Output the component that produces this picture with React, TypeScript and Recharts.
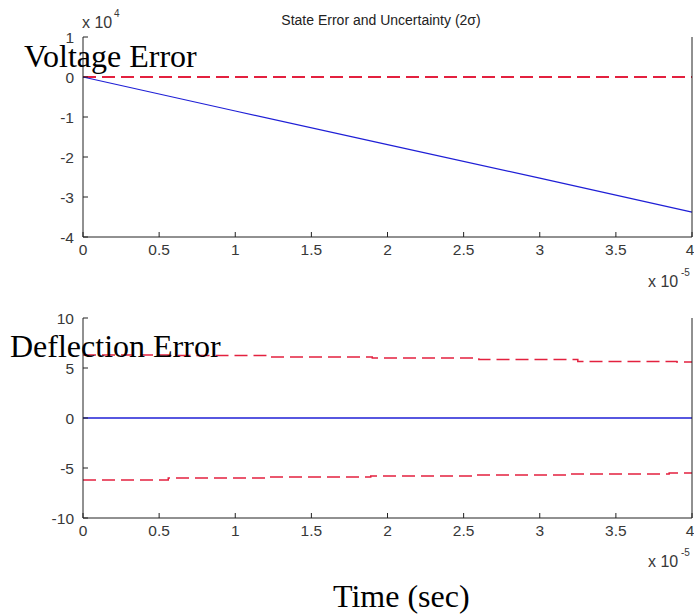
import React from 'react';
import { LineChart, Line, XAxis, YAxis } from 'recharts';

// time axis is in units of 1e-5 s
const timeTicks = [0, 0.5, 1, 1.5, 2, 2.5, 3, 3.5, 4];

// voltage error (x 1e4)
const voltageTime = [0, 1, 2, 3, 4];
const voltageErr = [0, -0.85, -1.69, -2.53, -3.38];
const voltageSigmaTime = [0, 4];
const voltageSigmaUp = [0.005, 0.005];
const voltageSigmaLo = [-0.005, -0.005];
const voltageTicks = [-4, -3, -2, -1, 0, 1];

// deflection error
const deflTime = [0, 4];
const deflErr = [0, 0];
const deflUpTime = [0, 0.56, 1.2, 1.9, 2.6, 3.25, 3.9, 4];
const deflUp = [6.3, 6.25, 6.1, 6.0, 5.85, 5.65, 5.6, 5.6];
const deflLoTime = [0, 0.56, 1.22, 1.89, 2.55, 3.2, 3.85, 4];
const deflLo = [-6.2, -6.0, -5.9, -5.8, -5.7, -5.6, -5.5, -5.5];
const deflTicks = [-10, -5, 0, 5, 10];

const zip = (xs: number[], ys: number[]) => xs.map((t, i) => ({ t, v: ys[i] }));

const BLUE = '#1f1fd6';
const RED = '#e3213f';
const AXIS = '#222';
const tickFont = { fontSize: 15.5, fill: '#383838', fontFamily: "Arial, 'Liberation Sans', sans-serif" };
const serif = "'Times New Roman', 'Liberation Serif', serif";
const sans = "Arial, 'Liberation Sans', sans-serif";

const noLabel = () => null;

type Props = {
  top: number;
  height: number;
  marginTop: number;
  xHeight: number;
  yDomain: [number, number];
  yTicks: number[];
  children: React.ReactNode;
};

const Panel = ({ top, height, marginTop, xHeight, yDomain, yTicks, children }: Props) => (
  <div style={{ position: 'absolute', left: 0, top }}>
    <LineChart width={694} height={height} margin={{ top: marginTop, right: 1, bottom: 0, left: 0 }}>
      <XAxis
        dataKey="t"
        type="number"
        domain={[0, 4]}
        ticks={timeTicks}
        height={xHeight}
        stroke={AXIS}
        tickSize={-5}
        tickMargin={12}
        tick={tickFont}
        allowDuplicatedCategory={false}
      />
      <XAxis
        xAxisId="top"
        orientation="top"
        type="number"
        domain={[0, 4]}
        ticks={timeTicks}
        height={0}
        stroke={AXIS}
        tickSize={-5}
        tick={noLabel}
      />
      <YAxis
        type="number"
        domain={yDomain}
        ticks={yTicks}
        width={83}
        stroke={AXIS}
        tickSize={-5}
        tickMargin={14}
        tick={tickFont}
      />
      <YAxis
        yAxisId="right"
        orientation="right"
        type="number"
        domain={yDomain}
        ticks={yTicks}
        width={1}
        stroke={AXIS}
        tickSize={-5}
        tick={noLabel}
      />
      {children}
    </LineChart>
  </div>
);

export default function App() {
  return (
    <div style={{ position: 'absolute', left: 0, top: 0, width: 694, height: 616, background: '#fff' }}>
      <Panel top={0} height={270} marginTop={37} xHeight={33} yDomain={[-4, 1]} yTicks={voltageTicks}>
        <Line data={zip(voltageSigmaTime, voltageSigmaUp)} dataKey="v" stroke={RED} strokeWidth={1.5}
          strokeDasharray="13 6" dot={false} isAnimationActive={false} />
        <Line data={zip(voltageSigmaTime, voltageSigmaLo)} dataKey="v" stroke={RED} strokeWidth={1.5}
          strokeDasharray="13 6" dot={false} isAnimationActive={false} />
        <Line data={zip(voltageTime, voltageErr)} dataKey="v" stroke={BLUE} strokeWidth={1.2}
          dot={false} isAnimationActive={false} />
      </Panel>
      <Panel top={280} height={280} marginTop={38} xHeight={42} yDomain={[-10, 10]} yTicks={deflTicks}>
        <Line data={zip(deflUpTime, deflUp)} dataKey="v" type="stepAfter" stroke={RED} strokeWidth={1.5}
          strokeDasharray="13 6" dot={false} isAnimationActive={false} />
        <Line data={zip(deflLoTime, deflLo)} dataKey="v" type="stepAfter" stroke={RED} strokeWidth={1.5}
          strokeDasharray="13 6" dot={false} isAnimationActive={false} />
        <Line data={zip(deflTime, deflErr)} dataKey="v" stroke={BLUE} strokeWidth={1.5}
          dot={false} isAnimationActive={false} />
      </Panel>
      <svg width={694} height={616} style={{ position: 'absolute', left: 0, top: 0, pointerEvents: 'none' }}>
        <text x={381} y={25} textAnchor="middle" fontFamily={sans} fontSize={14} fill="#222">
          State Error and Uncertainty (2σ)
        </text>
        <g fontFamily={sans} fill="#383838">
          <text x={82} y={28} fontSize={16}>x 10</text>
          <text x={114} y={17} fontSize={10}>4</text>
          <text x={648} y={287} fontSize={16}>x 10</text>
          <text x={681} y={276} fontSize={10}>-5</text>
          <text x={648} y={567} fontSize={16}>x 10</text>
          <text x={681} y={556} fontSize={10}>-5</text>
        </g>
        <g fontFamily={serif} fontSize={32} fill="#000">
          <text x={24} y={67}>Voltage Error</text>
          <text x={10} y={357}>Deflection Error</text>
          <text x={333} y={607}>Time (sec)</text>
        </g>
      </svg>
    </div>
  );
}
